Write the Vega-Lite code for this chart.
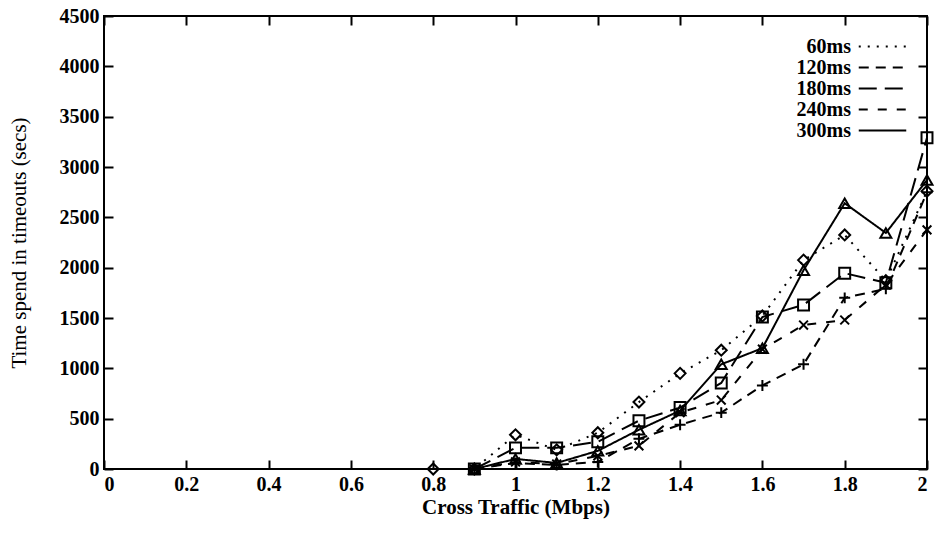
{
  "$schema": "https://vega.github.io/schema/vega-lite/v6.json",
  "autosize": {"type": "none"},
  "width": 823,
  "height": 453,
  "padding": {"left": 104, "top": 16, "right": 8, "bottom": 71},
  "background": "white",
  "config": {
    "view": {"stroke": "black", "strokeWidth": 2},
    "font": "Liberation Serif",
    "axis": {
      "domain": false,
      "grid": false,
      "tickColor": "black",
      "tickWidth": 2,
      "tickSize": -9,
      "labelFont": "Liberation Serif",
      "labelFontWeight": "bold",
      "labelFontSize": 20,
      "labelColor": "black",
      "titleFont": "Liberation Serif",
      "titleFontSize": 21,
      "titleFontWeight": "normal",
      "titleColor": "black"
    }
  },
  "data": {
    "values": [
      {"s": "60ms", "x": 0.8, "y": 0}, {"s": "60ms", "x": 0.9, "y": 0}, {"s": "60ms", "x": 1.0, "y": 340}, {"s": "60ms", "x": 1.1, "y": 190}, {"s": "60ms", "x": 1.2, "y": 360}, {"s": "60ms", "x": 1.3, "y": 665}, {"s": "60ms", "x": 1.4, "y": 950}, {"s": "60ms", "x": 1.5, "y": 1180}, {"s": "60ms", "x": 1.6, "y": 1520}, {"s": "60ms", "x": 1.7, "y": 2075}, {"s": "60ms", "x": 1.8, "y": 2325}, {"s": "60ms", "x": 1.9, "y": 1870}, {"s": "60ms", "x": 2.0, "y": 2760},
      {"s": "120ms", "x": 0.9, "y": 0}, {"s": "120ms", "x": 1.0, "y": 60}, {"s": "120ms", "x": 1.1, "y": 40}, {"s": "120ms", "x": 1.2, "y": 70}, {"s": "120ms", "x": 1.3, "y": 300}, {"s": "120ms", "x": 1.4, "y": 440}, {"s": "120ms", "x": 1.5, "y": 560}, {"s": "120ms", "x": 1.6, "y": 830}, {"s": "120ms", "x": 1.7, "y": 1040}, {"s": "120ms", "x": 1.8, "y": 1700}, {"s": "120ms", "x": 1.9, "y": 1790}, {"s": "120ms", "x": 2.0, "y": 2750},
      {"s": "180ms", "x": 0.9, "y": 0}, {"s": "180ms", "x": 1.0, "y": 210}, {"s": "180ms", "x": 1.1, "y": 210}, {"s": "180ms", "x": 1.2, "y": 270}, {"s": "180ms", "x": 1.3, "y": 480}, {"s": "180ms", "x": 1.4, "y": 610}, {"s": "180ms", "x": 1.5, "y": 855}, {"s": "180ms", "x": 1.6, "y": 1510}, {"s": "180ms", "x": 1.7, "y": 1630}, {"s": "180ms", "x": 1.8, "y": 1945}, {"s": "180ms", "x": 1.9, "y": 1850}, {"s": "180ms", "x": 2.0, "y": 3290},
      {"s": "240ms", "x": 0.9, "y": 0}, {"s": "240ms", "x": 1.0, "y": 70}, {"s": "240ms", "x": 1.1, "y": 50}, {"s": "240ms", "x": 1.2, "y": 130}, {"s": "240ms", "x": 1.3, "y": 230}, {"s": "240ms", "x": 1.4, "y": 560}, {"s": "240ms", "x": 1.5, "y": 685}, {"s": "240ms", "x": 1.6, "y": 1190}, {"s": "240ms", "x": 1.7, "y": 1430}, {"s": "240ms", "x": 1.8, "y": 1480}, {"s": "240ms", "x": 1.9, "y": 1830}, {"s": "240ms", "x": 2.0, "y": 2375},
      {"s": "300ms", "x": 0.9, "y": 0}, {"s": "300ms", "x": 1.0, "y": 100}, {"s": "300ms", "x": 1.1, "y": 60}, {"s": "300ms", "x": 1.2, "y": 180}, {"s": "300ms", "x": 1.3, "y": 390}, {"s": "300ms", "x": 1.4, "y": 580}, {"s": "300ms", "x": 1.5, "y": 1040}, {"s": "300ms", "x": 1.6, "y": 1200}, {"s": "300ms", "x": 1.7, "y": 1975}, {"s": "300ms", "x": 1.8, "y": 2640}, {"s": "300ms", "x": 1.9, "y": 2345}, {"s": "300ms", "x": 2.0, "y": 2870}
    ]
  },
  "layer": [
    {
      "mark": {"type": "line", "color": "black", "strokeWidth": 2},
      "encoding": {
        "x": {"field": "x", "type": "quantitative", "scale": {"domain": [0, 2], "nice": false},
              "axis": {"values": [0, 0.2, 0.4, 0.6, 0.8, 1, 1.2, 1.4, 1.6, 1.8, 2], "format": "~g", "title": "Cross Traffic (Mbps)", "labelPadding": 14, "titlePadding": 2, "titleFontWeight": "bold"}},
        "y": {"field": "y", "type": "quantitative", "scale": {"domain": [0, 4500], "nice": false},
              "axis": {"values": [0, 500, 1000, 1500, 2000, 2500, 3000, 3500, 4000, 4500], "format": "d", "title": "Time spend in timeouts (secs)", "labelPadding": 14, "titlePadding": 30}},
        "strokeDash": {"field": "s", "type": "nominal",
          "scale": {"domain": ["60ms", "120ms", "180ms", "240ms", "300ms"], "range": [[2, 7], [10, 7], [18, 8], [9, 10], [1, 0]]},
          "legend": {"title": null, "orient": "none", "legendX": 768, "legendY": 20, "symbolType": "M-2.5,0L2.5,0", "symbolSize": 361, "symbolStrokeWidth": 2, "symbolStrokeColor": "black", "labelFont": "Liberation Serif", "labelFontWeight": "bold", "labelFontSize": 20, "labelColor": "black", "labelAlign": "right", "labelOffset": -42, "rowPadding": -3.5, "labelLimit": 0}},
        "order": {"field": "x", "type": "quantitative"}
      }
    },
    {
      "mark": {"type": "point", "filled": false, "color": "black", "strokeWidth": 2, "size": 120, "opacity": 1},
      "encoding": {
        "x": {"field": "x", "type": "quantitative", "scale": {"domain": [0, 2], "nice": false},
              "axis": {"orient": "top", "values": [0, 0.2, 0.4, 0.6, 0.8, 1, 1.2, 1.4, 1.6, 1.8, 2], "labels": false, "title": null}},
        "y": {"field": "y", "type": "quantitative", "scale": {"domain": [0, 4500], "nice": false},
              "axis": {"orient": "right", "values": [0, 500, 1000, 1500, 2000, 2500, 3000, 3500, 4000, 4500], "labels": false, "title": null}},
        "shape": {"field": "s", "type": "nominal",
          "scale": {"domain": ["60ms", "120ms", "180ms", "240ms", "300ms"], "range": ["diamond", "M-1,0L1,0M0,-1L0,1", "square", "M-0.8,-0.8L0.8,0.8M-0.8,0.8L0.8,-0.8", "triangle-up"]},
          "legend": null}
      }
    }
  ],
  "resolve": {"scale": {"x": "independent", "y": "independent"}, "legend": {"shape": "independent", "strokeDash": "independent"}}
}
